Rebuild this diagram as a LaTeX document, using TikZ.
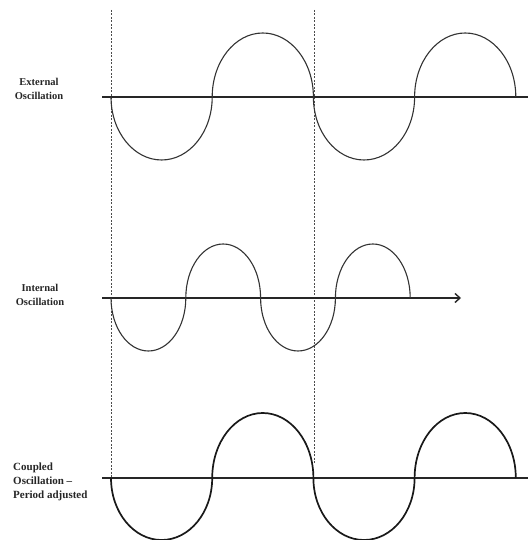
\documentclass[tikz,border=0pt]{standalone}
\usepackage{fontspec}
\setmainfont{Liberation Serif}
\usetikzlibrary{arrows.meta}
\begin{document}
\begin{tikzpicture}[x=1pt,y=1pt,
  lbl/.style={font=\fontsize{10.5}{14}\selectfont\bfseries, align=center, inner sep=0pt, text=black!85},
  axisline/.style={line width=1.4pt, black!85},
  wave/.style={line width=1.1pt, black!80},
  wavebold/.style={line width=1.7pt, black!90},
  guide/.style={line width=0.7pt, black!70, dash pattern=on 2pt off 1.5pt}]
\useasboundingbox (0,0) rectangle (528,540);
% labels
\node[lbl] (ext) at (39,451) {External\\Oscillation};
\node[lbl] (int) at (40,245) {Internal\\Oscillation};
\node[lbl, align=left, anchor=west, font=\fontsize{11}{14}\selectfont\bfseries] (cpl) at (13,58) {Coupled\\Oscillation –\\Period adjusted};
% guide coordinates
\coordinate (g1t) at (111,530);
\coordinate (g1b) at (111,62);
\coordinate (g2t) at (314,530);
\coordinate (g2b) at (314,75);
\draw[guide] (g1t) -- (g1b);
\draw[guide] (g2t) -- (g2b);
% top row
\coordinate (a1s) at (102,443);
\coordinate (a1e) at (528,443);
\draw[axisline] (a1s) -- (a1e);
\draw[wave] (111,443)
  arc[start angle=180, end angle=360, x radius=50.6, y radius=63]
  arc[start angle=180, end angle=0, x radius=50.6, y radius=64]
  arc[start angle=180, end angle=360, x radius=50.6, y radius=63]
  arc[start angle=180, end angle=0, x radius=50.6, y radius=64];
% middle row
\coordinate (a2s) at (102,242);
\coordinate (a2e) at (461,242);
\draw[axisline, -{Straight Barb[length=5pt,width=9pt]}] (a2s) -- (a2e);
\draw[wave] (111,242)
  arc[start angle=180, end angle=360, x radius=37.4, y radius=53]
  arc[start angle=180, end angle=0, x radius=37.4, y radius=54]
  arc[start angle=180, end angle=360, x radius=37.4, y radius=53]
  arc[start angle=180, end angle=0, x radius=37.4, y radius=54];
% bottom row
\coordinate (a3s) at (102,62);
\coordinate (a3e) at (528,62);
\draw[axisline] (a3s) -- (a3e);
\draw[wavebold] (111,62)
  arc[start angle=180, end angle=360, x radius=50.6, y radius=62]
  arc[start angle=180, end angle=0, x radius=50.6, y radius=65]
  arc[start angle=180, end angle=360, x radius=50.6, y radius=62]
  arc[start angle=180, end angle=0, x radius=50.6, y radius=65];
\end{tikzpicture}
\end{document}
